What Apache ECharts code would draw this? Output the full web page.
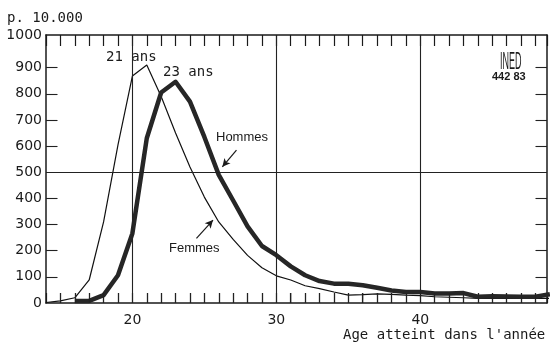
<!DOCTYPE html>
<html>
<head>
<meta charset="utf-8">
<script src="https://cdn.jsdelivr.net/npm/echarts@6/dist/echarts.min.js"></script>
<style>
  html, body { margin: 0; padding: 0; background: #fff; }
  #chart { width: 553px; height: 345px; }
</style>
</head>
<body>
<div id="chart"></div>
<script>
// taux par age (p. 10.000)
const femmesAges = [14, 15, 16, 17, 18, 19, 20, 21, 22, 23, 24, 25, 26, 27, 28, 29, 30, 31, 32, 33, 34, 35, 36, 37, 38, 39, 40, 41, 42, 43, 44, 45, 46, 47, 48, 49];
const femmesVals = [2, 8, 20, 88, 310, 605, 868, 910, 790, 650, 520, 405, 310, 243, 182, 135, 104, 88, 66, 55, 42, 30, 32, 35, 33, 30, 28, 24, 22, 20, 18, 18, 18, 18, 18, 18];

const hommesAges = [16, 17, 18, 19, 20, 21, 22, 23, 24, 25, 26, 27, 28, 29, 30, 31, 32, 33, 34, 35, 36, 37, 38, 39, 40, 41, 42, 43, 44, 45, 46, 47, 48, 49];
const hommesVals = [8, 8, 30, 106, 266, 630, 805, 846, 770, 635, 490, 392, 293, 218, 183, 140, 106, 84, 74, 74, 68, 58, 48, 42, 42, 36, 36, 38, 24, 26, 25, 24, 24, 34];

const xLabels = [20, 30, 40];
const xTicks = [15, 16, 17, 18, 19, 21, 22, 23, 24, 25, 26, 27, 28, 29, 31, 32, 33, 34, 35, 36, 37, 38, 39, 41, 42, 43, 44, 45, 46, 47, 48];
const yTicks = [100, 200, 300, 400, 600, 700, 800, 900];
const xMin = 14, xMax = 48.8;
const yTop = 1025; // le cadre du haut porte l'etiquette 1000

const femmes = femmesAges.map((a, i) => [a, femmesVals[i]]);
const hommes = hommesAges.map((a, i) => [a, hommesVals[i]]);

const ink = '#1a1a1a';
const mono = '"DejaVu Sans Mono", monospace';
const sans = '"Liberation Sans", Arial, sans-serif';
const digits = '"DejaVu Sans", sans-serif';

// petites graduations interieures (bas, gauche, droite) en unites des axes
// (un tout petit decalage evite un segment de surface nulle, ecarte par le filtre des markLine)
const tickUp = 38;     // ~10 px
const tickSide = 0.8;  // ~12 px
const eps = 0.002;
const frameTicks = [].concat(
  xTicks.map(a => [{ coord: [a, 0] }, { coord: [a + eps, tickUp] }]),
  yTicks.map(v => [{ coord: [xMin, v] }, { coord: [xMin + tickSide, v + eps] }]),
  yTicks.map(v => [{ coord: [xMax - tickSide, v] }, { coord: [xMax, v + eps] }])
);

const chart = echarts.init(document.getElementById('chart'));

function xAxisDef(pos, tickLen, label) {
  return {
    type: 'value', min: xMin, max: xMax, interval: 1, position: pos,
    axisLine: { show: true, onZero: false, lineStyle: { color: ink, width: 1.5 } },
    axisTick: { show: true, inside: true, length: tickLen, lineStyle: { color: ink, width: 1.2 } },
    axisLabel: label,
    splitLine: { show: false }
  };
}

function yAxisDef(pos, label) {
  return {
    type: 'value', min: 0, max: yTop, interval: 100, position: pos,
    axisLine: { show: true, onZero: false, lineStyle: { color: ink, width: 1.5 } },
    axisTick: { show: false },
    axisLabel: label,
    splitLine: { show: false }
  };
}

chart.setOption({
  animation: false,
  backgroundColor: '#fff',
  grid: { left: 46, right: 6, top: 35, bottom: 42 },
  xAxis: [
    xAxisDef('bottom', 10, {
      interval: 0, margin: 10, color: ink, fontSize: 14, fontFamily: digits,
      formatter: v => (xLabels.indexOf(v) >= 0 ? String(v) : '')
    }),
    xAxisDef('top', 11, { show: false })
  ],
  yAxis: [
    yAxisDef('left', {
      interval: 0, margin: 4, color: ink, fontSize: 14, fontFamily: digits,
      formatter: v => (v === yTop ? '1000' : v === 1000 ? '' : String(v))
    }),
    yAxisDef('right', { show: false })
  ],
  series: [
    {
      name: 'Femmes', type: 'line', data: femmes,
      symbol: 'none', z: 3,
      lineStyle: { color: '#111', width: 1.2 },
      markLine: {
        silent: true, symbol: 'none', label: { show: false },
        lineStyle: { color: '#222', width: 1.1, type: 'solid' },
        data: [{ xAxis: 20 }, { xAxis: 30 }, { xAxis: 40 }, { yAxis: 500 }].concat(frameTicks)
      }
    },
    {
      name: 'Hommes', type: 'line', data: hommes,
      symbol: 'none', z: 4,
      lineStyle: { color: '#262626', width: 4.5, join: 'round' },
      markLine: {
        silent: true, symbol: ['none', 'arrow'], symbolSize: [6, 8], label: { show: false },
        lineStyle: { color: ink, width: 1.2, type: 'solid' },
        data: [
          [{ coord: [27.23, 585] }, { coord: [26.25, 521] }],
          [{ coord: [24.45, 247] }, { coord: [25.6, 317] }]
        ]
      }
    }
  ],
  graphic: [
    { type: 'text', x: 7, y: 18, style: { text: 'p. 10.000', font: '14px ' + mono, fill: ink, verticalAlign: 'middle' } },
    { type: 'text', x: 106, y: 57, style: { text: '21 ans', font: '14px ' + mono, fill: ink, verticalAlign: 'middle' } },
    { type: 'text', x: 163, y: 72, style: { text: '23 ans', font: '14px ' + mono, fill: ink, verticalAlign: 'middle' } },
    { type: 'text', x: 216, y: 137, style: { text: 'Hommes', font: '13px ' + sans, fill: ink, verticalAlign: 'middle' } },
    { type: 'text', x: 169, y: 248, style: { text: 'Femmes', font: '13px ' + sans, fill: ink, verticalAlign: 'middle' } },
    { type: 'text', x: 343, y: 335, style: { text: "Age atteint dans l'année", font: '14px ' + mono, fill: ink, verticalAlign: 'middle' } },
    { type: 'text', x: 500, y: 62, scaleX: 0.75, scaleY: 2, style: { text: 'INED', font: '12px ' + sans, fill: ink, verticalAlign: 'middle' } },
    { type: 'text', x: 492, y: 77, style: { text: '442 83', font: 'bold 11px ' + sans, fill: ink, verticalAlign: 'middle' } }
  ]
});
</script>
</body>
</html>
